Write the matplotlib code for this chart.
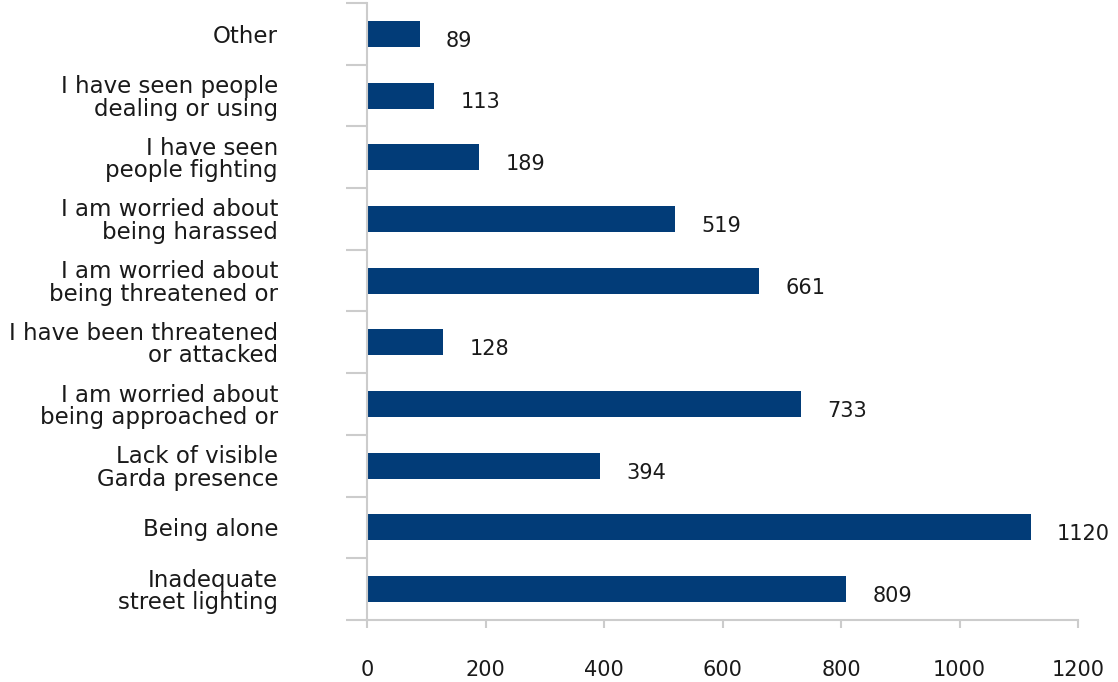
import matplotlib.pyplot as plt
import numpy as np

plt.rcParams['font.family'] = ['DejaVu Sans']

categorias = ["Inadequate\nstreet lighting", "Being alone", "Lack of visible\nGarda presence",
              "I am worried about\nbeing approached or", "I have been threatened\nor attacked",
              "I am worried about\nbeing threatened or", "I am worried about\nbeing harassed",
              "I have seen\npeople fighting", "I have seen people\ndealing or using", "Other"]
valores = [809, 1120, 394, 733, 128, 661, 519, 189, 113, 89]

fig = plt.figure(figsize=(11.18, 6.82), dpi=100)
ax = fig.add_axes([367/1118, 1 - 620/682, (1078-367)/1118, (620-3)/682])

y = np.arange(len(categorias))
ax.barh(y, valores, height=0.42, color="#023C78")

for yi, v in zip(y, valores):
    ax.annotate(f"{v}", xy=(v, yi), xytext=(19, -5), textcoords="offset points",
                ha="left", va="center", fontsize=15, color="#1a1a1a")

ax.set_xlim(0, 1200)
ax.set_ylim(-0.5, len(categorias) - 0.5)
ax.set_xticks(np.arange(0, 1201, 200))
ax.set_yticks(y)
ax.set_yticklabels(categorias, fontsize=16.5, color="#1a1a1a", linespacing=0.98)
ax.set_yticks(np.arange(-0.5, len(categorias)), minor=True)

ax.tick_params(axis="y", which="major", length=0, pad=64)
ax.tick_params(axis="y", which="minor", length=15, width=1.5, color="#cccccc")
ax.tick_params(axis="x", length=6, width=1.5, color="#cccccc", pad=23, labelsize=15, labelcolor="#1a1a1a")

for s in ["top", "right"]:
    ax.spines[s].set_visible(False)
for s in ["left", "bottom"]:
    ax.spines[s].set_color("#cccccc")
    ax.spines[s].set_linewidth(1.5)

fig.savefig("out.png", dpi=100)
